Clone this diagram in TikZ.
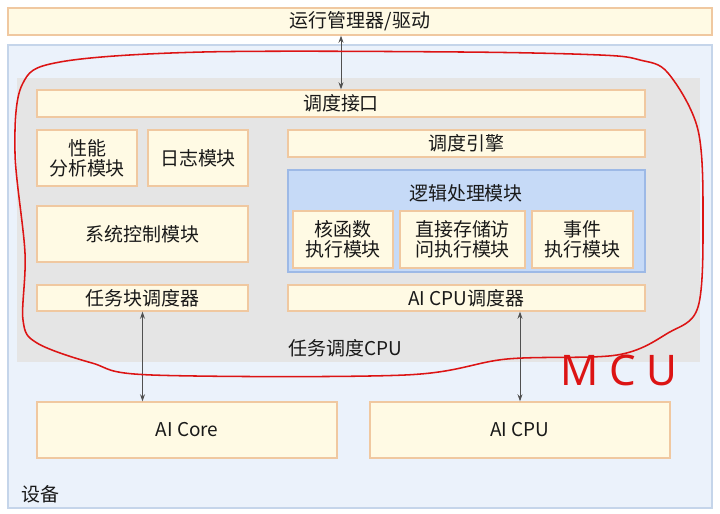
\documentclass[tikz,border=0pt]{standalone}
\usepackage{fontspec}
\setmainfont{Noto Sans CJK SC}
\newfontfamily\handfont{Noto Sans}[LetterSpace=25]
\usetikzlibrary{arrows.meta}
\definecolor{creamFill}{RGB}{255,250,228}
\definecolor{creamBorder}{RGB}{240,200,160}
\definecolor{logicFill}{RGB}{198,218,247}
\definecolor{logicBorder}{RGB}{157,185,230}
\definecolor{cpuGray}{RGB}{229,229,229}
\definecolor{deviceFill}{RGB}{235,242,251}
\definecolor{deviceBorder}{RGB}{197,213,234}
\definecolor{linkGray}{RGB}{80,80,80}
\definecolor{penRed}{RGB}{220,20,20}

\tikzset{
  modbox/.style={draw=creamBorder, fill=creamFill, line width=0.9pt, inner sep=0pt,
    align=center, text=black!90, font=\fontsize{13.5}{15}\selectfont},
  link/.style={{Stealth[length=5pt,width=3.5pt]}-{Stealth[length=5pt,width=3.5pt]},
    draw=linkGray, line width=0.7pt},
}

\begin{document}
\begin{tikzpicture}[x=0.025cm, y=-0.025cm]
  \useasboundingbox[fill=white] (0,0) rectangle (720,513);

  % Containers
  \draw[draw=deviceBorder, fill=deviceFill, line width=0.9pt] (8,45) rectangle (712,508);
  \fill[cpuGray] (17,78) rectangle (700,362);
  \draw[draw=logicBorder, fill=logicFill, line width=0.9pt] (288,170) rectangle (645,272);

  % Top bar
  \node[modbox, minimum width=17.6cm, minimum height=0.675cm] (runtime) at (360,21.5) {运行管理器/驱动};

  % Modules of the task scheduling CPU
  \node[modbox, minimum width=15.2cm, minimum height=0.675cm] (schedif) at (341,103.5) {调度接口};
  \node[modbox, minimum width=2.5cm, minimum height=1.4cm, font=\fontsize{13.5}{14}\selectfont] (perf) at (87,158) {性能\\分析模块};
  \node[modbox, minimum width=2.5cm, minimum height=1.4cm] (log) at (198,158) {日志模块};
  \node[modbox, minimum width=8.925cm, minimum height=0.675cm] (engine) at (466.5,143.5) {调度引擎};
  \node[text=black!90, font=\fontsize{13.5}{15}\selectfont] (logic) at (466,193) {逻辑处理模块};
  \node[modbox, minimum width=2.5cm, minimum height=1.425cm, font=\fontsize{13.5}{14}\selectfont] (kernel) at (343,239.5) {核函数\\执行模块};
  \node[modbox, minimum width=3.125cm, minimum height=1.425cm, font=\fontsize{13.5}{14}\selectfont] (dma) at (462.5,239.5) {直接存储访\\问执行模块};
  \node[modbox, minimum width=2.525cm, minimum height=1.425cm, font=\fontsize{13.5}{14}\selectfont] (event) at (582.5,239.5) {事件\\执行模块};
  \node[modbox, minimum width=5.275cm, minimum height=1.4cm] (sysctl) at (142.5,234) {系统控制模块};
  \node[modbox, minimum width=5.275cm, minimum height=0.65cm] (tbs) at (142.5,298) {任务块调度器};
  \node[modbox, minimum width=8.925cm, minimum height=0.65cm] (acs) at (466.5,298) {AI CPU调度器};
  \node[text=black!90, font=\fontsize{13.5}{15}\selectfont] (tscpu) at (345,348) {任务调度CPU};

  % Compute units
  \node[modbox, minimum width=7.5cm, minimum height=1.4cm] (aicore) at (187,430) {AI Core};
  \node[modbox, minimum width=7.5cm, minimum height=1.4cm] (aicpu) at (520,430) {AI CPU};
  \node[text=black!90, font=\fontsize{13.5}{15}\selectfont] (device) at (40,494) {设备};

  % Connectors
  \draw[link] (schedif.north) -- (schedif.north |- runtime.south);
  \draw[link] (tbs.south) -- (tbs.south |- aicore.north);
  \draw[link] (aicpu.north) -- (aicpu.north |- acs.south);

  % Hand-drawn MCU outline
  \draw[penRed, line width=1.1pt, line cap=round, line join=round] plot[smooth cycle, tension=0.55] coordinates {
    (60,62) (203,52) (461,52) (600,55) (640,60) (668,73) (698,130) (703,220)
    (698,307) (668,333) (617,355) (507,359) (405,375) (152,375) (92,363) (37,343)
    (23,320) (25,253) (15,153) (22,85)};
  \node[text=penRed, font=\handfont\fontsize{30}{30}\selectfont] (mcu) at (619,370) {MCU};
\end{tikzpicture}
\end{document}
